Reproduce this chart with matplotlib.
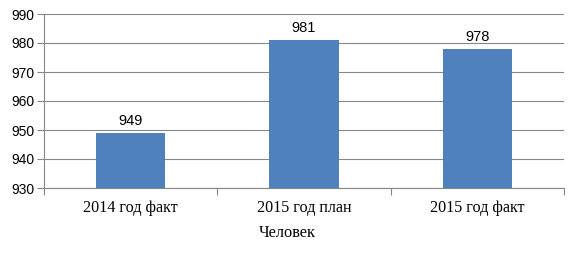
import matplotlib.pyplot as plt

categories = ['2014 год факт', '2015 год план', '2015 год факт']
values = [949, 981, 978]
y_ticks = [930, 940, 950, 960, 970, 980, 990]
x_title = 'Человек'

fig = plt.figure(figsize=(5.76, 2.62), dpi=100)
ax = fig.add_axes([44 / 576, 1 - 188 / 262, 520 / 576, 174 / 262])

pos = range(len(categories))
ax.bar(pos, values, width=0.4, color='#4F81BD', zorder=3, bottom=0)
ax.set_ylim(930, 990)
ax.set_xlim(-0.5, len(categories) - 0.5)
ax.set_yticks(y_ticks)
ax.set_yticklabels([str(t) for t in y_ticks], fontfamily='Liberation Sans', fontsize=10)
ax.yaxis.grid(True, color='#868686', linewidth=0.8, zorder=0)

# category labels without ticks, boundary ticks between categories
ax.set_xticks(list(pos))
ax.set_xticklabels(categories, fontfamily='Liberation Serif', fontsize=11.6)
ax.tick_params(axis='x', length=0, pad=9)
ax.set_xticks([i - 0.5 for i in range(len(categories) + 1)], minor=True)
ax.tick_params(axis='x', which='minor', length=5, color='#868686', width=0.8)
ax.tick_params(axis='y', length=5, color='#868686', width=0.8, pad=2)

for s in ['top', 'right']:
    ax.spines[s].set_visible(False)
for s in ['left', 'bottom']:
    ax.spines[s].set_color('#868686')
    ax.spines[s].set_linewidth(0.8)

for i, v in enumerate(values):
    ax.annotate(str(v), (i, v), xytext=(0, 3.5), textcoords='offset points',
                ha='center', va='bottom', fontfamily='Liberation Sans', fontsize=10.5)

fig.text(287 / 576, 1 - 233 / 262, x_title, ha='center', va='center',
         fontfamily='Liberation Serif', fontsize=11.8)

fig.savefig('out.png', dpi=100)
